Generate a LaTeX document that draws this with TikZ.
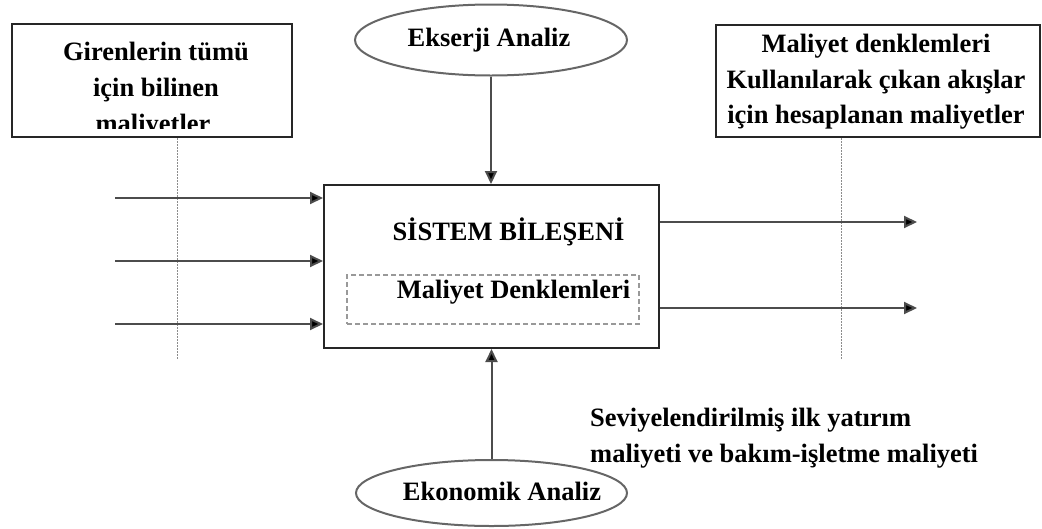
\documentclass[tikz,border=0pt]{standalone}
\usepackage{fontspec}
\setmainfont{Liberation Serif}
\usetikzlibrary{arrows.meta,shapes.geometric}

\begin{document}
\begin{tikzpicture}[x=1pt,y=-1pt,
        box/.style={draw=black!85,line width=2pt,rectangle,inner sep=0pt},
        oval/.style={draw=black!60,line width=2pt,ellipse,inner sep=0pt},
        txt/.style={font=\fontsize{26.5}{36}\selectfont\bfseries,inner sep=0pt,anchor=base},
        flow/.style={draw=black!70,line width=2pt,-{Triangle[length=13pt,width=12pt,fill=black]}},
        guide/.style={draw=black!45,line width=1pt,dash pattern=on 1.5pt off 1.5pt}]
        \useasboundingbox (0,0) rectangle (1042,528);
        % boxes and ovals
        \node [box,minimum width=280pt,minimum height=113pt] (known) at (152,80.5) {};
        \node [box,minimum width=324pt,minimum height=112pt] (costs) at (878,81) {};
        \node [box,minimum width=335pt,minimum height=163pt] (comp) at (491.5,266.5) {};
        \node [draw=black!40,line width=2pt,dash pattern=on 5pt off 3pt,inner sep=0pt,
               minimum width=292pt,minimum height=49pt] (eqs) at (493,299.5) {};
        \node [oval,minimum width=272pt,minimum height=71pt] (exergy) at (491,40) {};
        \node [oval,minimum width=271pt,minimum height=66pt] (econ) at (491.5,493) {};
        % texts
        \node [txt] (known1) at (156,60) {Girenlerin tümü};
        \node [txt] (known2) at (156,96) {için bilinen};
        \begin{scope}
        \clip (12,24) rectangle (292,128);
        \node [txt] (known3) at (153,132) {maliyetler};
        \end{scope}
        \node [txt] (costs1) at (876,52) {Maliyet denklemleri};
        \node [txt] (costs2) at (876,88) {Kullanılarak çıkan akışlar};
        \node [txt] (costs3) at (876,123) {için hesaplanan maliyetler};
        \node [txt] (exergyLbl) at (489,46) {Ekserji Analiz};
        \node [txt] (econLbl) at (502,500) {Ekonomik Analiz};
        \node [txt] (compLbl) at (508.5,240) {SİSTEM BİLEŞENİ};
        \node [txt] (eqsLbl) at (513.5,298) {Maliyet Denklemleri};
        \node [txt,anchor=base west] (note1) at (590,426) {Seviyelendirilmiş ilk yatırım};
        \node [txt,anchor=base west] (note2) at (590,462) {maliyeti ve bakım-işletme maliyeti};
        % free ends
        \coordinate (in1) at (115,198);
        \coordinate (in2) at (115,261);
        \coordinate (in3) at (115,324);
        \coordinate (out1) at (917,222);
        \coordinate (out2) at (917,308);
        \coordinate (g1) at (177,360);
        \coordinate (g2) at (841,360);
        % guides
        \draw [guide] (g1 |- known.south) -- (g1);
        \draw [guide] (g2 |- costs.south) -- (g2);
        % flows
        \draw [flow] (exergy.south) -- (exergy.south |- comp.north);
        \draw [flow] (econ.north) -- (econ.north |- comp.south);
        \draw [flow] (in1) -- (in1 -| comp.west);
        \draw [flow] (in2) -- (in2 -| comp.west);
        \draw [flow] (in3) -- (in3 -| comp.west);
        \draw [flow] (comp.east |- out1) -- (out1);
        \draw [flow] (comp.east |- out2) -- (out2);
\end{tikzpicture}
\end{document}
